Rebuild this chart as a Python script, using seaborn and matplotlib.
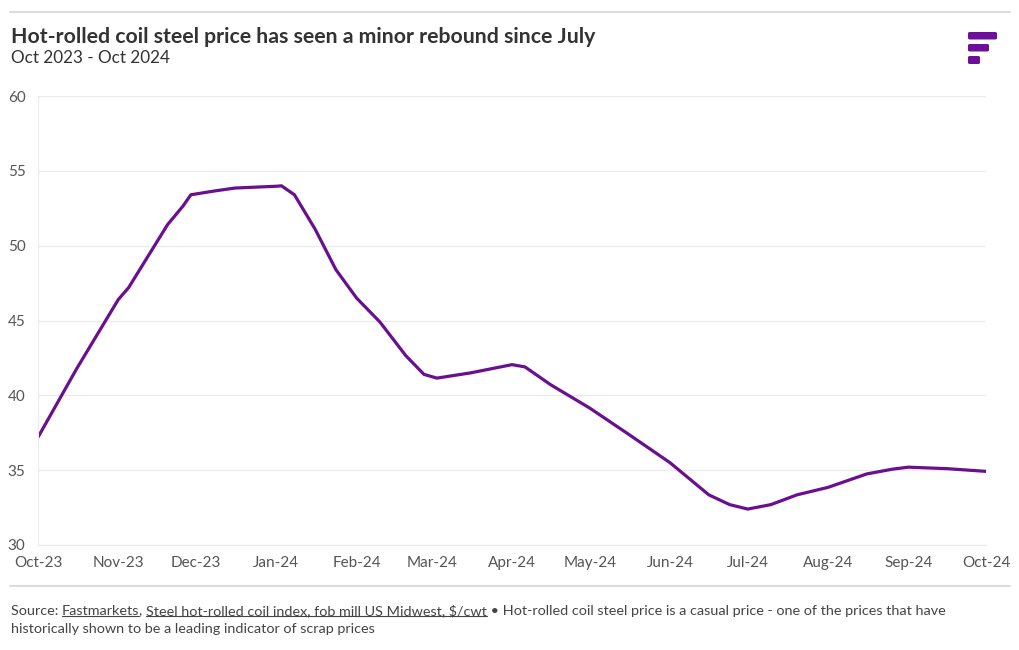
import matplotlib
matplotlib.use("Agg")
import matplotlib.pyplot as plt
import matplotlib.dates as mdates
from matplotlib.patches import FancyBboxPatch
from matplotlib.lines import Line2D
import seaborn as sns
import pandas as pd

# values
dates = ["2023-10-01", "2023-10-16", "2023-11-01", "2023-11-05", "2023-11-20", "2023-11-26",
         "2023-11-29", "2023-12-08", "2023-12-16", "2024-01-01", "2024-01-03", "2024-01-08",
         "2024-01-16", "2024-01-24", "2024-02-01", "2024-02-10", "2024-02-20", "2024-02-27",
         "2024-03-03", "2024-03-16", "2024-04-01", "2024-04-06", "2024-04-16", "2024-05-01",
         "2024-05-16", "2024-06-01", "2024-06-16", "2024-06-24", "2024-07-01", "2024-07-10",
         "2024-07-20", "2024-08-01", "2024-08-16", "2024-08-26", "2024-09-01", "2024-09-16",
         "2024-10-01"]
price = [37.2, 41.8, 46.4, 47.2, 51.4, 52.65,
         53.4, 53.65, 53.85, 53.97, 54.0, 53.4,
         51.1, 48.4, 46.5, 44.9, 42.65, 41.4,
         41.15, 41.5, 42.05, 41.9, 40.7, 39.15,
         37.4, 35.5, 33.35, 32.7, 32.4, 32.7,
         33.35, 33.85, 34.75, 35.07, 35.2, 35.1,
         34.92]
y_ticks = [30, 35, 40, 45, 50, 55, 60]

title = "Hot-rolled coil steel price has seen a minor rebound since July"
subtitle = "Oct 2023 - Oct 2024"

df = pd.DataFrame({"date": pd.to_datetime(dates), "price": price})

sns.set_style("white")
plt.rcParams["font.family"] = ["Lato", "DejaVu Sans"]

purple = "#6a0f8e"
grid_c = "#ebebeb"
text_c = "#555555"

fig = plt.figure(figsize=(10.2, 6.5), dpi=100)
ax = fig.add_axes([38 / 1020, 1 - 545 / 650, (986 - 38) / 1020, (545 - 96) / 650])

sns.lineplot(data=df, x="date", y="price", ax=ax, color=purple, linewidth=2.3)
ax.lines[0].set_solid_joinstyle("round")
ax.lines[0].set_solid_capstyle("round")

ax.set_xlim(pd.Timestamp("2023-10-01"), pd.Timestamp("2024-10-01"))
ax.set_ylim(30, 60)
ax.set_yticks(y_ticks)
ax.xaxis.set_major_locator(mdates.MonthLocator())
ax.xaxis.set_major_formatter(mdates.DateFormatter("%b-%y"))
ax.set_xlabel("")
ax.set_ylabel("")

ax.grid(axis="y", color=grid_c, linewidth=0.9)
for s in ["top", "right"]:
    ax.spines[s].set_visible(False)
ax.spines["left"].set_color(grid_c)
ax.spines["bottom"].set_color(grid_c)
ax.tick_params(axis="x", length=5, color=grid_c, labelsize=11, labelcolor=text_c, pad=3)
ax.tick_params(axis="y", length=0, labelsize=11, labelcolor=text_c, pad=9)

# header / footer rules
fig.add_artist(Line2D([10 / 1020, 1010 / 1020], [1 - 12 / 650] * 2, color="#dcdcdc", lw=1.5))
fig.add_artist(Line2D([10 / 1020, 1010 / 1020], [1 - 586 / 650] * 2, color="#dcdcdc", lw=1.5))

fig.text(11 / 1020, 1 - 37 / 650, title, fontsize=15.3, fontweight="bold", color="#333333", va="center")
fig.text(11 / 1020, 1 - 58 / 650, subtitle, fontsize=12.3, color="#333333", va="center")

# logo
logo_c = "#6d0f99"
for x0, x1, y0, y1 in [(968, 997, 32, 39.5), (968, 989, 44, 51.5), (968, 980, 56, 64)]:
    fig.add_artist(FancyBboxPatch((x0 / 1020, 1 - y1 / 650), (x1 - x0) / 1020, (y1 - y0) / 650,
                                  boxstyle="round,pad=0,rounding_size=0.002", transform=fig.transFigure,
                                  facecolor=logo_c, edgecolor="none"))

# source note, with underlined parts
fig.canvas.draw()
renderer = fig.canvas.get_renderer()
pieces = [("Source: ", False), ("Fastmarkets", True), (", ", False),
          (r"Steel hot-rolled coil index, fob mill US Midwest, \$/cwt", True),
          (" \u2022 Hot-rolled coil steel price is a casual price - one of the prices that have", False)]
x = 11
y_line = 1 - 611 / 650
for txt, under in pieces:
    t = fig.text(x / 1020, y_line, txt, fontsize=10.4, color="#444444", va="center")
    bb = t.get_window_extent(renderer)
    if under:
        fig.add_artist(Line2D([bb.x0 / 1020, bb.x1 / 1020], [(bb.y0 + 1) / 650] * 2,
                              color="#444444", lw=0.8))
    x = bb.x1
fig.text(11 / 1020, 1 - 629 / 650, "historically shown to be a leading indicator of scrap prices",
         fontsize=10.4, color="#444444", va="center")

fig.savefig("out.png", dpi=100)
